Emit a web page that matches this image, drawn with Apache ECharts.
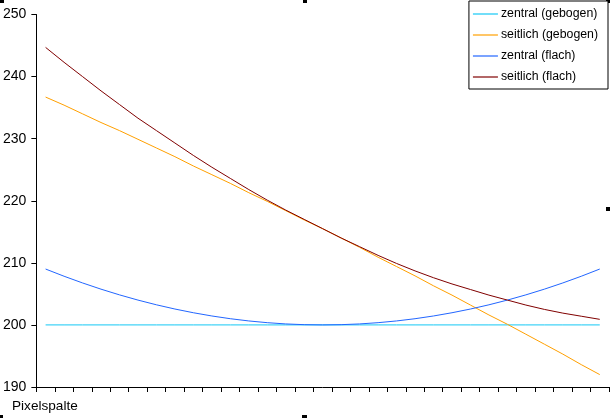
<!DOCTYPE html>
<html>
<head>
<meta charset="utf-8">
<script src="https://cdn.jsdelivr.net/npm/echarts@6/dist/echarts.min.js"></script>
<style>
  html, body { margin: 0; padding: 0; background: #fff; }
  #main { width: 610px; height: 418px; }
</style>
</head>
<body>
<div id="main"></div>
<script>
// Pixelspalten 1..31
var pixelspalten = ['1', '2', '3', '4', '5', '6', '7', '8', '9', '10', '11', '12', '13', '14', '15', '16',
    '17', '18', '19', '20', '21', '22', '23', '24', '25', '26', '27', '28', '29', '30', '31'];

var zentralGebogen = [200, 200, 200, 200, 200, 200, 200, 200, 200, 200, 200, 200, 200, 200, 200, 200,
    200, 200, 200, 200, 200, 200, 200, 200, 200, 200, 200, 200, 200, 200, 200];

var seitlichGebogen = [236.7, 235.4, 234.0, 232.6, 231.3, 229.9, 228.5, 227.1, 225.6, 224.2, 222.8,
    221.3, 219.9, 218.4, 216.9, 215.5, 214.0, 212.5, 210.9, 209.4, 207.9, 206.3, 204.8, 203.2, 201.6,
    200.1, 198.5, 196.9, 195.3, 193.6, 192.0];

var zentralFlach = [209.0, 207.84, 206.76, 205.76, 204.84, 204.0, 203.24, 202.56, 201.96, 201.44, 201.0,
    200.64, 200.36, 200.16, 200.04, 200.0, 200.04, 200.16, 200.36, 200.64, 201.0, 201.44, 201.96, 202.56,
    203.24, 204.0, 204.84, 205.76, 206.76, 207.84, 209.0];

var seitlichFlach = [244.7, 242.3, 240.0, 237.7, 235.5, 233.3, 231.3, 229.3, 227.3, 225.4, 223.6,
    221.8, 220.1, 218.5, 217.0, 215.5, 214.0, 212.6, 211.2, 209.9, 208.7, 207.6, 206.6, 205.7, 204.8,
    204.0, 203.2, 202.5, 201.9, 201.4, 200.9];

var yTicks = { min: 190, max: 250, interval: 10 };

var font = 'Arial, "Liberation Sans", sans-serif';

function linie(name, data, color) {
    return {
        name: name,
        type: 'line',
        data: data,
        symbol: 'none',
        lineStyle: { color: color, width: 1 },
        itemStyle: { color: color }
    };
}

// kleine Markierungen (Auswahlgriffe) am Rand
function griff(x, y, w, h) {
    return { type: 'rect', shape: { x: x, y: y, width: w, height: h }, style: { fill: '#000' } };
}

var myChart = echarts.init(document.getElementById('main'));
myChart.setOption({
    animation: false,
    backgroundColor: '#fff',
    textStyle: { fontFamily: font },
    grid: { left: 36, right: 1, top: 14.5, bottom: 31 },
    legend: {
        orient: 'vertical',
        right: 2,
        top: 1,
        padding: [6, 10, 5, 4],
        icon: 'rect',
        itemWidth: 25,
        itemHeight: 1.2,
        itemGap: 7,
        borderColor: '#000',
        borderWidth: 1,
        backgroundColor: '#fff',
        textStyle: { fontFamily: font, fontSize: 12.3, color: '#000', lineHeight: 14, padding: [0, 0, 0, -2] }
    },
    xAxis: {
        type: 'category',
        data: pixelspalten,
        boundaryGap: true,
        axisLine: { lineStyle: { color: '#000', width: 1 } },
        axisTick: { show: true, interval: 0, length: 5, lineStyle: { color: '#000' } },
        axisLabel: { show: false },
        splitLine: { show: false }
    },
    yAxis: {
        type: 'value',
        min: yTicks.min,
        max: yTicks.max,
        interval: yTicks.interval,
        axisLine: { show: true, lineStyle: { color: '#000', width: 1 } },
        axisTick: { show: true, length: 5, lineStyle: { color: '#000' } },
        axisLabel: { color: '#000', fontSize: 14, margin: 10, fontFamily: font },
        splitLine: { show: false }
    },
    graphic: [
        {
            type: 'text', left: 12, top: 399,
            style: { text: 'Pixelspalte', fill: '#000', font: '13.6px ' + font }
        },
        griff(0, 0, 4, 3),
        griff(303, 0, 4, 3),
        griff(606, 0, 4, 3),
        griff(606, 207, 4, 4),
        griff(302, 415, 5, 3),
        griff(0, 415, 3, 3)
    ],
    series: [
        linie('zentral (gebogen)', zentralGebogen, '#14c8f5'),
        linie('seitlich (gebogen)', seitlichGebogen, '#ffa000'),
        linie('zentral (flach)', zentralFlach, '#2266ff'),
        linie('seitlich (flach)', seitlichFlach, '#800000')
    ]
});
</script>
</body>
</html>
